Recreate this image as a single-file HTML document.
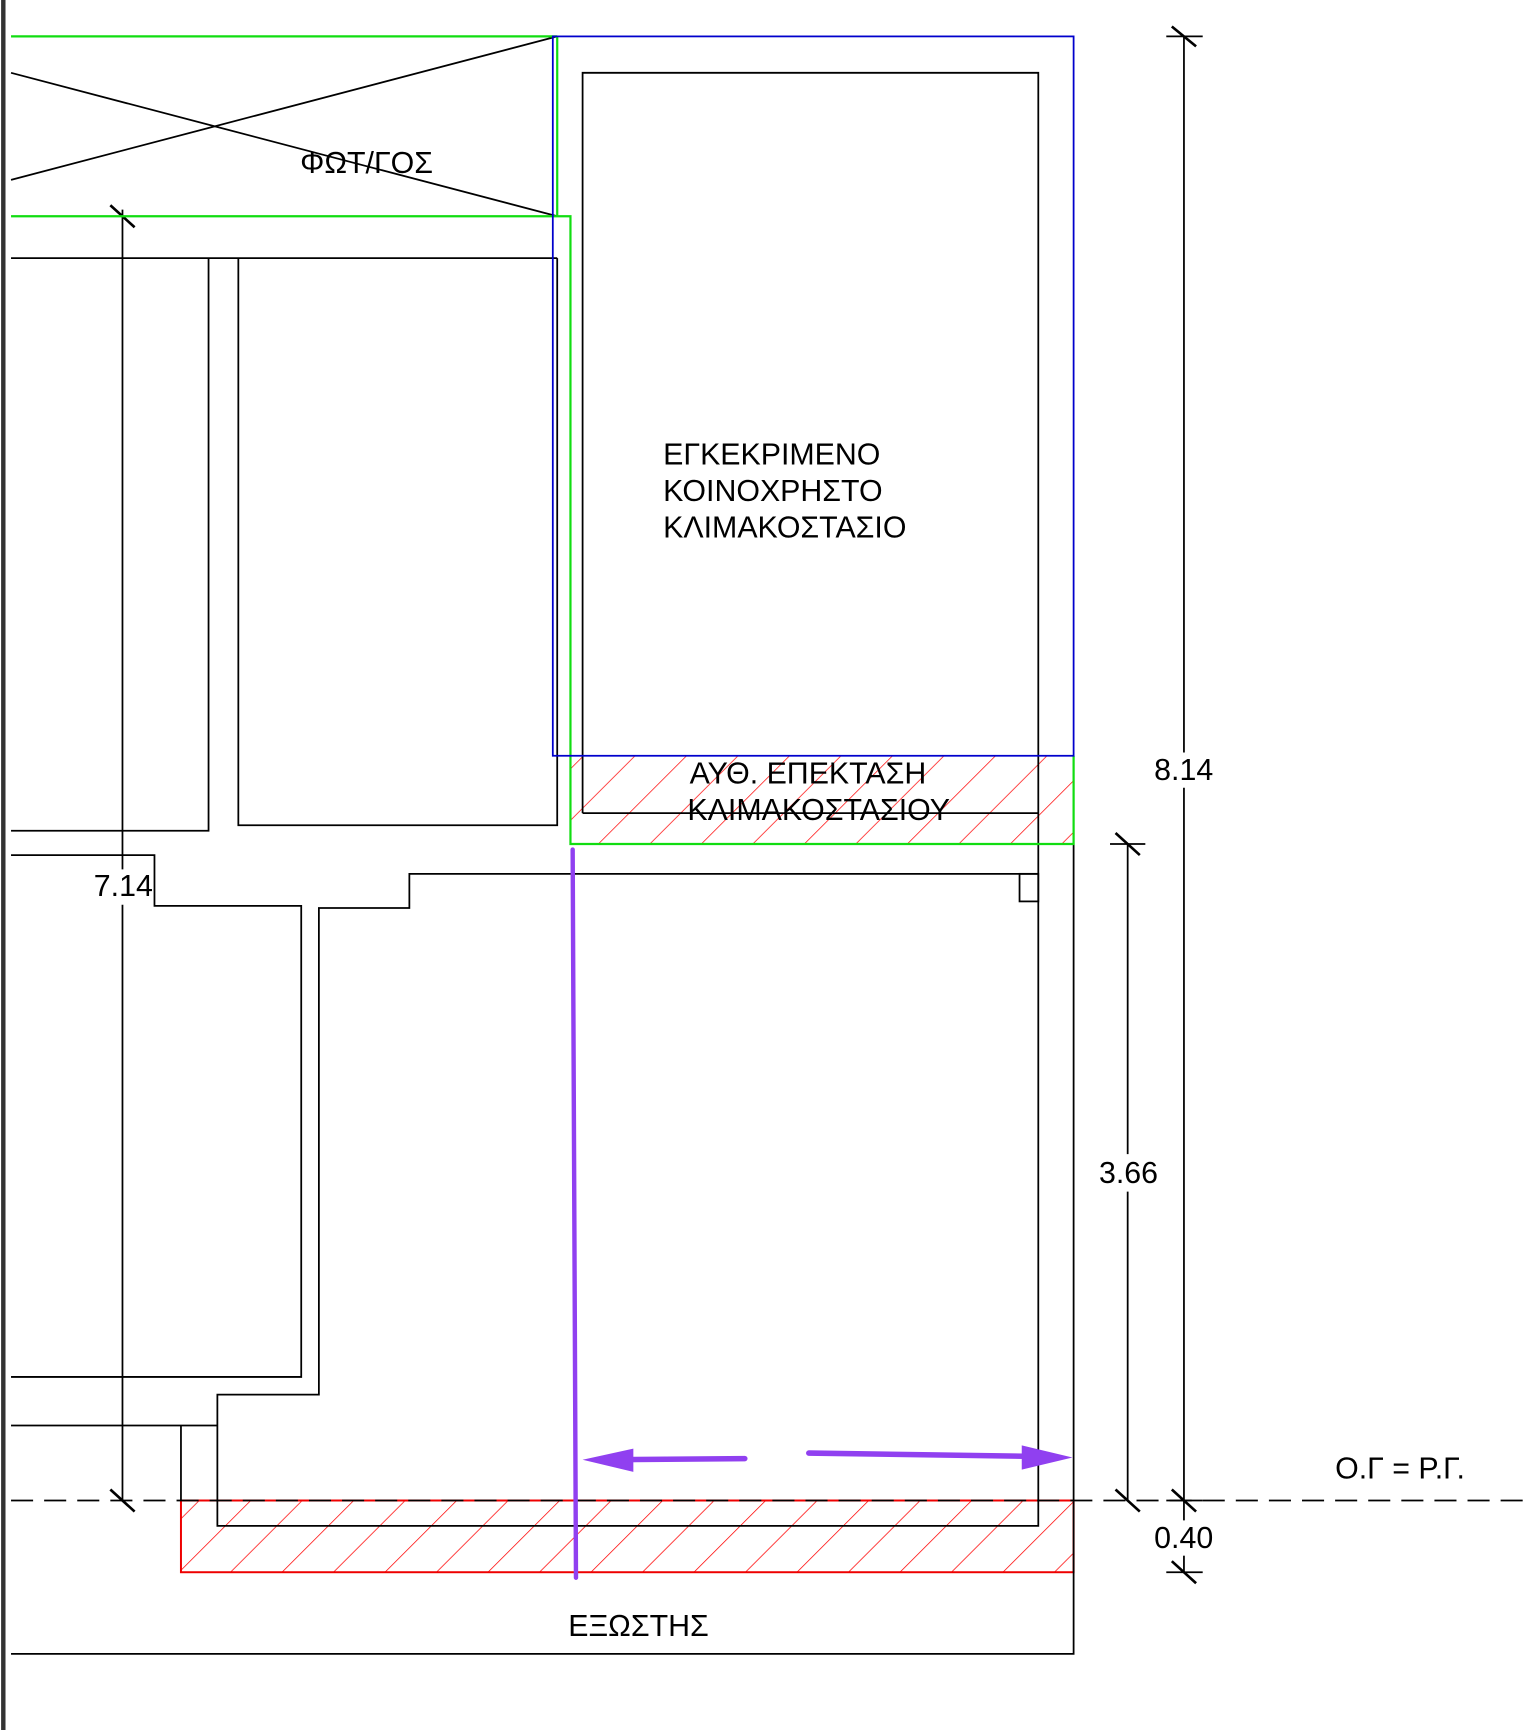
<!DOCTYPE html>
<html><head><meta charset="utf-8"><style>
html,body{margin:0;padding:0;background:#fff;}
svg{display:block;}
text{font-family:"Liberation Sans","DejaVu Sans",sans-serif;font-size:27.5px;fill:#000;}
</style></head><body>
<svg width="1526" height="1730" viewBox="0 0 1383 1568" preserveAspectRatio="none" xmlns="http://www.w3.org/2000/svg">
<defs>
<pattern id="h" patternUnits="userSpaceOnUse" width="33" height="33" patternTransform="rotate(45)">
<line x1="0" y1="0" x2="0" y2="33" stroke="#f00" stroke-width="1.3"/>
</pattern>
</defs>
<rect width="1383" height="1568" fill="#fff"/>
<line x1="3" y1="0" x2="3" y2="1568" stroke="#333" stroke-width="4"/>
<rect x="517" y="685" width="456" height="80" fill="url(#h)"/>
<rect x="164" y="1360" width="809" height="65" fill="url(#h)"/>
<rect x="164" y="1360" width="809" height="65" fill="none" stroke="#e00" stroke-width="1.8"/>
<g stroke="#000" stroke-width="1.6" fill="none">
<line x1="10" y1="66" x2="505" y2="196"/>
<line x1="10" y1="163" x2="505" y2="33"/>
<polyline points="528,737 528,66 941,66 941,1383 197,1383 197,1264 289,1264 289,823 371,823 371,792 941,792"/>
<line x1="528" y1="737" x2="941" y2="737"/>
<rect x="924" y="792" width="17" height="25"/>
<line x1="10" y1="234" x2="505" y2="234"/>
<polyline points="505,234 505,748 216,748 216,234"/>
<polyline points="189,234 189,753 10,753"/>
<polyline points="10,775 140,775 140,821 273,821 273,1248 10,1248"/>
<polyline points="10,1292 197,1292"/>
<line x1="164" y1="1292" x2="164" y2="1360"/>
<polyline points="973,685 973,1499 10,1499"/>
<line x1="111" y1="190" x2="111" y2="788"/>
<line x1="111" y1="820" x2="111" y2="1360"/>
<line x1="1073" y1="33" x2="1073" y2="682"/>
<line x1="1073" y1="714" x2="1073" y2="1378"/>
<line x1="1073" y1="1410" x2="1073" y2="1425"/>
<line x1="1022" y1="765" x2="1022" y2="1046"/>
<line x1="1022" y1="1080" x2="1022" y2="1360"/>
<line x1="1057" y1="33" x2="1090" y2="33"/><line x1="1062" y1="24" x2="1084" y2="42" stroke-width="2.4"/>
<line x1="1057" y1="1360" x2="1090" y2="1360"/><line x1="1062" y1="1350" x2="1084" y2="1370" stroke-width="2.4"/>
<line x1="1057" y1="1425" x2="1090" y2="1425"/><line x1="1062" y1="1415" x2="1084" y2="1435" stroke-width="2.4"/>
<line x1="1006" y1="765" x2="1038" y2="765"/><line x1="1011" y1="755" x2="1033" y2="775" stroke-width="2.4"/>
<line x1="1011" y1="1350" x2="1033" y2="1370" stroke-width="2.4"/>
<line x1="100" y1="186" x2="122" y2="206" stroke-width="2.4"/>
<line x1="100" y1="1350" x2="122" y2="1370" stroke-width="2.4"/>
</g>
<line x1="10" y1="1360" x2="1383" y2="1360" stroke="#000" stroke-width="1.6" stroke-dasharray="20,10"/>
<g stroke="#1d1" stroke-width="2" fill="none">
<line x1="10" y1="33" x2="505" y2="33"/>
<line x1="505" y1="33" x2="505" y2="196"/>
<polyline points="10,196 517,196 517,765 973,765 973,685"/>
</g>
<rect x="501" y="33" width="472" height="652" fill="none" stroke="#00c" stroke-width="1.6"/>
<g stroke="#9040f0" fill="#9040f0">
<line x1="519" y1="770" x2="522" y2="1430" stroke-width="4" stroke-linecap="round"/>
<line x1="675" y1="1322" x2="560" y2="1323" stroke-width="5" stroke-linecap="round"/>
<polygon points="528,1323 574,1313 574,1334" stroke="none"/>
<line x1="733" y1="1317" x2="935" y2="1320" stroke-width="5" stroke-linecap="round"/>
<polygon points="972,1321 926,1310 926,1332" stroke="none"/>
</g>
<text x="272" y="157">ΦΩΤ/ΓΟΣ</text>
<text x="601" y="421">ΕΓΚΕΚΡΙΜΕΝΟ</text>
<text x="601" y="454">ΚΟΙΝΟΧΡΗΣΤΟ</text>
<text x="601" y="487">ΚΛΙΜΑΚΟΣΤΑΣΙΟ</text>
<text x="625" y="710">ΑΥΘ. ΕΠΕΚΤΑΣΗ</text>
<text x="623" y="743">ΚΛΙΜΑΚΟΣΤΑΣΙΟΥ</text>
<text x="85" y="812">7.14</text>
<text x="1046" y="707">8.14</text>
<text x="996" y="1072">3.66</text>
<text x="1046" y="1403">0.40</text>
<text x="1210" y="1340">Ο.Γ = Ρ.Γ.</text>
<text x="515" y="1483">ΕΞΩΣΤΗΣ</text>
</svg>
</body></html>
